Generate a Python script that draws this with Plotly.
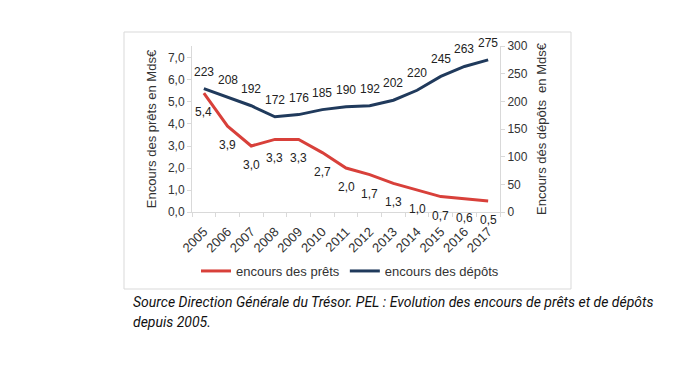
import plotly.graph_objects as go

years = [str(y) for y in range(2005, 2018)]
prets = [5.4, 3.9, 3.0, 3.3, 3.3, 2.7, 2.0, 1.7, 1.3, 1.0, 0.7, 0.6, 0.5]
depots = [223, 208, 192, 172, 176, 185, 190, 192, 202, 220, 245, 263, 275]

RED = "#D8403A"
BLUE = "#203A5C"
GRID = "#D9D9D9"
FONT = "Liberation Sans, Arial, sans-serif"

L, T, PW, PH = 184, 38, 308, 166  # page offset of 8px body margin removed

fig = go.Figure()
fig.add_trace(go.Scatter(x=years, y=prets, mode="lines", name="encours des prêts",
                         line=dict(color=RED, width=3), yaxis="y"))
fig.add_trace(go.Scatter(x=years, y=depots, mode="lines", name="encours des dépôts",
                         line=dict(color=BLUE, width=3), yaxis="y2"))

ann = []
for i, v in enumerate(prets):
    ann.append(dict(x=i, y=v, xref="x", yref="y", text=f"{v:.1f}".replace(".", ","),
                    showarrow=False, yshift=-19, font=dict(size=12, color="#222", family=FONT)))
for i, v in enumerate(depots):
    ann.append(dict(x=i, y=v, xref="x", yref="y2", text=str(v),
                    showarrow=False, yshift=17, font=dict(size=12, color="#222", family=FONT)))

def px(xp):
    return (xp - 192) / PW

def py(yp):
    return (212 - yp) / PH

ann.append(dict(xref="paper", yref="paper", x=px(131), y=py(302),
                xanchor="left", yanchor="middle", showarrow=False, align="left",
                text="<i>Source Direction Générale du Trésor. PEL : Evolution des encours de prêts et de dépôts</i>",
                font=dict(size=14, color="#111", family="Roboto, sans-serif")))
ann.append(dict(xref="paper", yref="paper", x=px(131), y=py(322),
                xanchor="left", yanchor="middle", showarrow=False, align="left",
                text="<i>depuis 2005.</i>",
                font=dict(size=14, color="#111", family="Roboto, sans-serif")))

fig.update_layout(
    width=672, height=374,
    margin=dict(l=L, r=672 - L - PW, t=T, b=374 - T - PH),
    paper_bgcolor="white", plot_bgcolor="white",
    separators=", ",
    font=dict(family=FONT, size=12, color="#333"),
    showlegend=True,
    legend=dict(orientation="h", x=px(350), y=py(271), xanchor="center", yanchor="middle",
                font=dict(size=13, color="#333", family=FONT), itemwidth=30,
                bgcolor="rgba(0,0,0,0)"),
    xaxis=dict(type="category", tickson="boundaries", ticks="outside", ticklen=4,
               tickcolor=GRID, showline=True, linecolor=GRID, showgrid=False,
               tickangle=-45, tickfont=dict(size=13, color="#333"), range=[-0.5, 12.5],
               ticklabelstandoff=6),
    yaxis=dict(range=[0, 7.545], dtick=1, tickformat=".1f", showgrid=False,
               showline=True, linecolor=GRID, ticks="outside", ticklen=4, tickcolor=GRID,
               tickfont=dict(size=12, color="#333"),
               title=dict(text="Encours des prêts en Mds€", font=dict(size=13, color="#333"), standoff=8)),
    yaxis2=dict(range=[0, 300], dtick=50, overlaying="y", side="right", showgrid=False,
                showline=True, linecolor=GRID, ticks="outside", ticklen=4, tickcolor=GRID,
                tickfont=dict(size=12, color="#333"),
                title=dict(text="Encours dés dépôts  en Mds€", font=dict(size=13, color="#333"), standoff=10)),
    annotations=ann,
    shapes=[dict(type="rect", xref="paper", yref="paper",
                 x0=px(124), x1=px(571), y0=py(289), y1=py(32),
                 line=dict(color="#D9D9D9", width=1), fillcolor="rgba(0,0,0,0)", layer="below")],
)

fig.write_html("out.html")
